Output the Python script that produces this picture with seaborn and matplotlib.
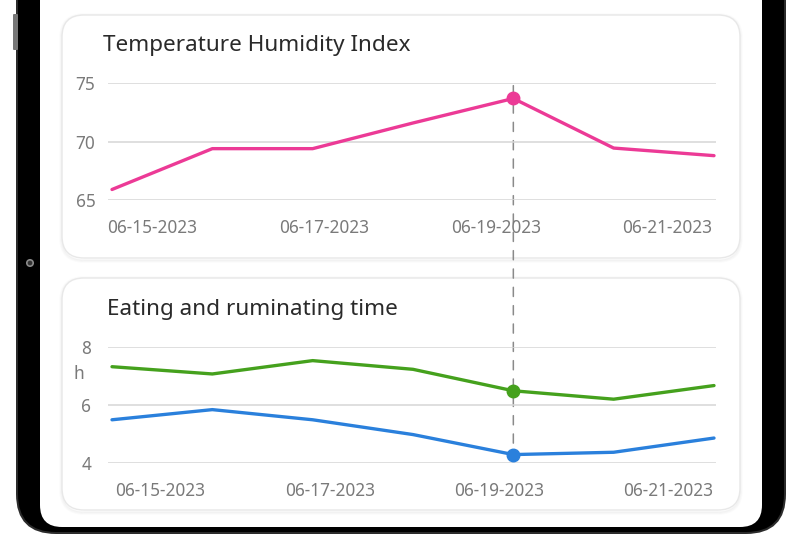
import numpy as np
import pandas as pd
import matplotlib.pyplot as plt
import matplotlib.transforms as mtransforms
from matplotlib.patches import FancyBboxPatch, Circle, ConnectionPatch
import seaborn as sns

# ==========================================
# DATA
# ==========================================
dates = ["06-15-2023", "06-16-2023", "06-17-2023", "06-18-2023",
         "06-19-2023", "06-20-2023", "06-21-2023"]
thi = [65.9, 69.4, 69.4, 71.6, 73.7, 69.45, 68.8]
rumination_h = [7.31, 7.06, 7.52, 7.22, 6.48, 6.19, 6.66]
eating_h = [5.48, 5.83, 5.48, 4.97, 4.28, 4.36, 4.85]
tick_labels = ["06-15-2023", "06-17-2023", "06-19-2023", "06-21-2023"]
thi_ticks = [65, 70, 75]
time_ticks = [4, 6, 8]
selected = "06-19-2023"

df = pd.DataFrame({"date": dates, "thi": thi,
                   "rumination": rumination_h, "eating": eating_h})
df["day"] = np.arange(len(df))
sel_idx = dates.index(selected)

# ==========================================
# STYLE
# ==========================================
sns.set_theme(style="white")
plt.rcParams["font.family"] = ["Noto Sans", "DejaVu Sans"]

PINK = "#ec3a96"
GREEN = "#45a11d"
BLUE = "#2a80dc"
GRID = "#d6d6d6"
TICK = "#7a7a7a"

W, H = 800, 534
fig = plt.figure(figsize=(8, 5.34), dpi=100)
fig.patch.set_facecolor("white")
px = mtransforms.IdentityTransform()


def rbox(x0, y0, x1, y1, r, **kw):
    # rectangle given in image pixels (y down)
    p = FancyBboxPatch((x0, H - y1), x1 - x0, y1 - y0,
                       boxstyle=f"round,pad=0,rounding_size={r}",
                       transform=px, **kw)
    fig.patches.append(p)
    return p


# tablet frame
rbox(16, -60, 786, 534, 40, facecolor="#2b2b2b", edgecolor="none", zorder=0)
rbox(18, -60, 784, 532, 38, facecolor="black", edgecolor="none", zorder=0)
rbox(40, -60, 762, 527, 22, facecolor="white", edgecolor="none", zorder=0)
rbox(13, 14, 18, 50, 1, facecolor="#777777", edgecolor="none", zorder=0)
fig.patches.append(Circle((30, H - 263), 3.2, transform=px, facecolor="#333333",
                          edgecolor="#8a8a8a", lw=1.2, zorder=1))

# cards with a soft shadow
for (y0, y1) in [(15, 258), (278, 510)]:
    for k, a in enumerate([0.035, 0.025, 0.015]):
        rbox(62 - k, y0 + 1 - k, 740 + k, y1 + 2 + k, 22 + k,
             facecolor="none", edgecolor="black", alpha=a, lw=1.2, zorder=1)
    rbox(62, y0, 740, y1, 22, facecolor="white", edgecolor="#e8e8e8",
         lw=1.0, zorder=2)


def axes_px(x0, x1, y_top, y_bot):
    a = fig.add_axes([x0 / W, (H - y_bot) / H, (x1 - x0) / W, (y_bot - y_top) / H])
    a.set_zorder(5)
    return a


x_step = (714 - 112) / 6
xlim = (-(112 - 108) / x_step, 6 + (716 - 714) / x_step)

# ==========================================
# TOP: Temperature Humidity Index
# ==========================================
ax1 = axes_px(108, 716, 83.3, 200)
sns.lineplot(data=df, x="day", y="thi", color=PINK, lw=2.4, ax=ax1, zorder=3)
ax1.plot(df["day"][sel_idx], thi[sel_idx], "o", color=PINK, ms=9, zorder=4)
ax1.set_ylim(65, 75)
ax1.set_yticks(thi_ticks)
top_tick_pos = [(p - 112) / x_step for p in [152.5, 324, 496.5, 667]]
ax1.set_xticks(top_tick_pos)
ax1.set_xticklabels(tick_labels)

# ==========================================
# BOTTOM: Eating and ruminating time
# ==========================================
ax2 = axes_px(108, 716, 346.7, 462.7)
sns.lineplot(data=df, x="day", y="rumination", color=GREEN, lw=2.4, ax=ax2, zorder=3)
sns.lineplot(data=df, x="day", y="eating", color=BLUE, lw=2.4, ax=ax2, zorder=3)
ax2.plot(df["day"][sel_idx], rumination_h[sel_idx], "o", color=GREEN, ms=9, zorder=4)
ax2.plot(df["day"][sel_idx], eating_h[sel_idx], "o", color=BLUE, ms=9, zorder=4)
ax2.set_ylim(4, 8)
ax2.set_yticks(time_ticks)
bot_tick_pos = [(p - 112) / x_step for p in [160, 330, 499, 668]]
ax2.set_xticks(bot_tick_pos)
ax2.set_xticklabels(tick_labels)

for ax, ypad in [(ax1, 9), (ax2, 12)]:
    ax.set_xlim(*xlim)
    ax.set_facecolor("none")
    for s in ax.spines.values():
        s.set_visible(False)
    for yv in ax.get_yticks():
        ax.axhline(yv, color=GRID, lw=1.1, zorder=1)
    ax.set_xlabel("")
    ax.set_ylabel("")
    ax.tick_params(axis="x", length=0, pad=14, labelsize=12.4, labelcolor=TICK)
    ax.tick_params(axis="y", length=0, pad=ypad, labelsize=12.4, labelcolor=TICK)
    ax.grid(False)

fig.text(79 / W, (H - 374) / H, "h", ha="center", va="center",
         fontsize=12.4, color=TICK, zorder=6)

# titles
fig.text(103 / W, (H - 46) / H, "Temperature Humidity Index", fontsize=16.2,
         color="#2a2a2a", va="center", ha="left", zorder=6)
fig.text(107 / W, (H - 309) / H, "Eating and ruminating time", fontsize=16.2,
         color="#2a2a2a", va="center", ha="left", zorder=6)

# crosshair through both cards at the selected day
con = ConnectionPatch(xyA=(sel_idx, 74.8), coordsA=ax1.transData,
                      xyB=(sel_idx, 4), coordsB=ax2.transData,
                      color="#8a8a8a", lw=1.1, linestyle=(0, (6, 6)), zorder=4)
fig.add_artist(con)

plt.savefig("out.png", dpi=100)
